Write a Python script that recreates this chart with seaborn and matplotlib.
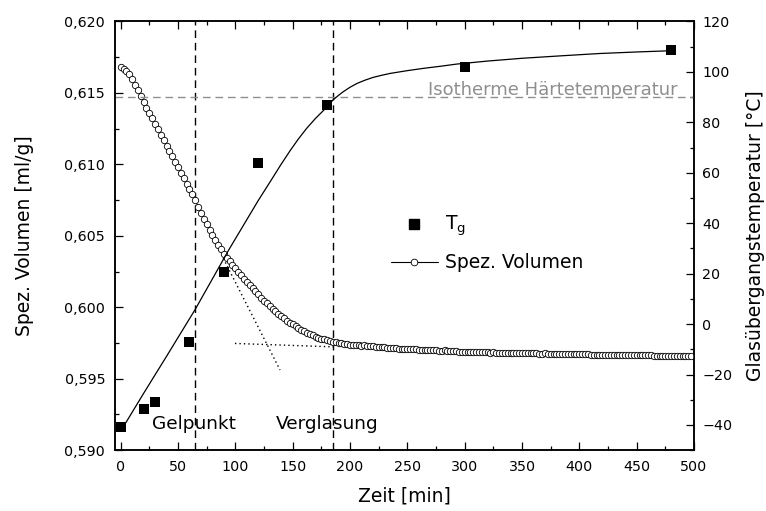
import numpy as np
import pandas as pd
import matplotlib
matplotlib.use("Agg")
import matplotlib.pyplot as plt
import seaborn as sns
from matplotlib.lines import Line2D
from matplotlib.ticker import MultipleLocator, FuncFormatter

# Glass transition temperature, measured (right axis, °C)
tg_zeit = [0, 20, 30, 60, 90, 120, 180, 300, 480]
tg_wert = [-41.0, -33.5, -31.0, -7.0, 20.7, 63.7, 87.0, 102.0, 108.6]

# Fitted Tg curve
fit_zeit = [0, 20, 40, 65, 94, 120, 132, 140, 148, 155, 162, 170, 176, 180,
            185, 190, 194, 200, 206, 213, 220, 228, 235, 250, 264, 280, 293,
            320, 350, 385, 418, 450, 480]
fit_wert = [-42.5, -27.5, -12.8, 5.8, 29.2, 49.0, 57.6, 63.4, 68.9, 73.4,
            77.5, 81.6, 84.3, 86.1, 88.8, 90.7, 92.1, 93.9, 95.4, 96.7, 97.8,
            98.7, 99.4, 100.5, 101.4, 102.3, 103.1, 104.3, 105.4, 106.4,
            107.3, 107.9, 108.4]

# Specific volume (left axis, ml/g), sampled every 2.5 min
t_schritt = 2.5
spez_volumen = [
    0.61683, 0.61667, 0.61650, 0.61632, 0.61595, 0.61556, 0.61518, 0.61475,
    0.61435, 0.61397, 0.61360, 0.61323, 0.61285, 0.61247, 0.61209, 0.61170,
    0.61132, 0.61094, 0.61056, 0.61018, 0.60980, 0.60942, 0.60904, 0.60866,
    0.60829, 0.60791, 0.60750, 0.60705, 0.60660, 0.60620, 0.60580, 0.60542,
    0.60505, 0.60470, 0.60437, 0.60405, 0.60375, 0.60348, 0.60322, 0.60297,
    0.60272, 0.60247, 0.60224, 0.60200, 0.60177, 0.60155, 0.60134, 0.60112,
    # 120 min
    0.60090, 0.60068, 0.60047, 0.60027, 0.60008, 0.59990, 0.59972, 0.59955,
    0.59938, 0.59922, 0.59907, 0.59893, 0.59880, 0.59867, 0.59855, 0.59843,
    0.59832, 0.59822, 0.59812, 0.59803, 0.59795, 0.59788, 0.59781, 0.59775,
    0.59769, 0.59764, 0.59759, 0.59755, 0.59751, 0.59747, 0.59744, 0.59741,
    0.59739,
    # 202.5 min
    0.59737, 0.59735, 0.59733, 0.59731, 0.59733, 0.59729, 0.59727, 0.59726,
    0.59724, 0.59723, 0.59721, 0.59720, 0.59718, 0.59717, 0.59715, 0.59714,
    # 242.5 min
    0.59711, 0.59710, 0.59709, 0.59708, 0.59707, 0.59706, 0.59705, 0.59704,
    0.59703, 0.59702, 0.59701, 0.59700,
    # 272.5 min
    0.59699, 0.59698, 0.59697, 0.59696, 0.59699, 0.59694, 0.59693, 0.59692,
    0.59691, 0.59690, 0.59689, 0.59688,
    # 302.5 min
    0.59687, 0.59687, 0.59686, 0.59686, 0.59685, 0.59685, 0.59684, 0.59684,
    0.59683, 0.59687, 0.59682, 0.59681,
    # 332.5 min
    0.59681, 0.59680, 0.59680, 0.59680, 0.59679, 0.59679, 0.59679, 0.59678,
    0.59678, 0.59678, 0.59677, 0.59677,
    # 362.5 min
    0.59677, 0.59676, 0.59676, 0.59680, 0.59675, 0.59675, 0.59674, 0.59674,
    0.59673, 0.59673, 0.59672, 0.59672,
    # 392.5 min
    0.59672, 0.59671, 0.59671, 0.59671, 0.59670, 0.59670, 0.59670, 0.59669,
    0.59669, 0.59669, 0.59668, 0.59668, 0.59668, 0.59667, 0.59667, 0.59667,
    0.59666, 0.59666, 0.59666, 0.59665, 0.59665, 0.59665, 0.59664, 0.59664,
    0.59664, 0.59664, 0.59663, 0.59663, 0.59663, 0.59662, 0.59662, 0.59662,
    0.59662, 0.59661, 0.59661, 0.59661, 0.59661, 0.59660, 0.59660, 0.59660,
    0.59660, 0.59659, 0.59659,
]
zeit_v = np.arange(len(spez_volumen)) * t_schritt

# Tangent constructions on the volume curve
tangente_steil_zeit = [89.5, 139.0]
tangente_steil_vol = [0.60342, 0.59561]
tangente_flach_zeit = [99.7, 185.4]
tangente_flach_vol = [0.59747, 0.59723]

gelpunkt_zeit = 65
verglasung_zeit = 185
haertetemperatur = 90

df_v = pd.DataFrame({"Zeit": zeit_v, "Volumen": spez_volumen})
df_tg = pd.DataFrame({"Zeit": tg_zeit, "Tg": tg_wert})
df_fit = pd.DataFrame({"Zeit": fit_zeit, "Tg": fit_wert})

sns.set_theme(style="ticks")
plt.rcParams.update({
    "font.family": ["DejaVu Sans"],
    "text.color": "black",
    "axes.labelcolor": "black",
    "xtick.color": "black",
    "ytick.color": "black",
    "axes.edgecolor": "black",
    "axes.linewidth": 1.1,
    "xtick.direction": "in",
    "ytick.direction": "in",
})

grau = "#8f8f8f"

fig = plt.figure(figsize=(7.66, 5.11), dpi=100)
ax = fig.add_axes([0.150, 0.119, 0.756, 0.839])
ax2 = ax.twinx()

# specific volume: line with open circles
sns.lineplot(data=df_v, x="Zeit", y="Volumen", ax=ax, color="black", lw=0.6,
             marker="o", markersize=4.6, markerfacecolor="white",
             markeredgecolor="black", markeredgewidth=0.6,
             estimator=None, sort=False, legend=False, zorder=3)

# tangents
ax.plot(tangente_steil_zeit, tangente_steil_vol, color="black", lw=1.0,
        dashes=(1, 2.2))
ax.plot(tangente_flach_zeit, tangente_flach_vol, color="black", lw=1.0,
        dashes=(1, 2.2))

# gel point and vitrification
for tz in (gelpunkt_zeit, verglasung_zeit):
    ax.axvline(tz, color="black", lw=1.0, dashes=(5.5, 3.5), zorder=1)

ax.text(27.3, 0.59145, "Gelpunkt", fontsize=13.3, va="baseline", ha="left")
ax.text(135.0, 0.59145, "Verglasung", fontsize=13.3, va="baseline", ha="left")

# Tg: fit and measurements
ax2.axhline(haertetemperatur, color=grau, lw=1.0, dashes=(5.5, 3.5), zorder=1)
ax2.text(486, 90.9, "Isotherme Härtetemperatur", color=grau, fontsize=13,
         ha="right", va="baseline")
sns.lineplot(data=df_fit, x="Zeit", y="Tg", ax=ax2, color="black", lw=0.9,
             estimator=None, sort=False, legend=False)
sns.scatterplot(data=df_tg, x="Zeit", y="Tg", ax=ax2, marker="s", s=60,
                color="black", linewidth=0, legend=False, zorder=4)

# axes
ax.set_xlim(-5, 500)
ax.set_ylim(0.590, 0.620)
ax2.set_ylim(-50, 120)

ax.xaxis.set_major_locator(MultipleLocator(50))
ax.xaxis.set_minor_locator(MultipleLocator(25))
ax.yaxis.set_major_locator(MultipleLocator(0.005))
ax.yaxis.set_minor_locator(MultipleLocator(0.0025))
ax.yaxis.set_major_formatter(FuncFormatter(lambda v, _: f"{v:.3f}".replace(".", ",")))
ax2.yaxis.set_major_locator(MultipleLocator(20))
ax2.yaxis.set_minor_locator(MultipleLocator(10))

ax.tick_params(axis="both", which="both", direction="in", top=True,
               right=False, labelsize=10.3, width=0.9, color="black",
               labelcolor="black")
ax.tick_params(which="major", length=6, pad=7)
ax.tick_params(which="minor", length=3)
ax2.tick_params(axis="y", which="both", direction="in", labelsize=10.3,
                width=0.9, color="black", labelcolor="black")
ax2.tick_params(axis="y", which="major", length=6, pad=6)
ax2.tick_params(axis="y", which="minor", length=3)

ax.set_xlabel("Zeit [min]", fontsize=13.5, labelpad=9)
ax.set_ylabel("Spez. Volumen [ml/g]", fontsize=13.5, labelpad=22)
ax2.set_ylabel("Glasübergangstemperatur [°C]", fontsize=13.5, labelpad=10)

for a in (ax, ax2):
    for sp in a.spines.values():
        sp.set_color("black")
        sp.set_linewidth(1.1)

handles = [
    Line2D([], [], marker="s", ls="none", color="black", markersize=7.5),
    Line2D([], [], color="black", lw=0.8, marker="o", markersize=4.8,
           markerfacecolor="white", markeredgecolor="black", markeredgewidth=0.6),
]
ax2.legend(handles, ["T$_\\mathregular{g}$", "Spez. Volumen"], loc="upper left",
           bbox_to_anchor=(0.4767, 0.551), frameon=False, fontsize=13.5,
           handlelength=2.5, handletextpad=0.4, labelspacing=0.8,
           borderpad=0, borderaxespad=0)

fig.savefig("out.png", dpi=100)
